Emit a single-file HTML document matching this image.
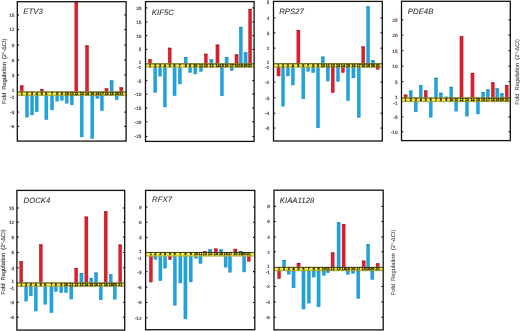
<!DOCTYPE html>
<html><head><meta charset="utf-8"><style>
html,body{margin:0;padding:0;background:#fff;}
body{width:520px;height:331px;overflow:hidden;}
svg{display:block;will-change:transform;font-family:"Liberation Sans",sans-serif;}
.tk{stroke:#111;stroke-width:1.1;}
.tl text{text-rendering:geometricPrecision;font-size:4.7px;fill:#4a4a4a;stroke:#4a4a4a;stroke-width:0.2;text-anchor:end;}
.bn text{font-size:3.7px;fill:#262000;stroke:#262000;stroke-width:0.25;text-anchor:middle;font-weight:bold;}
.ti{text-rendering:geometricPrecision;font-size:7.8px;font-style:italic;fill:#2e2e2e;stroke:#2e2e2e;stroke-width:0.06;}
.yl{text-rendering:geometricPrecision;font-size:5.8px;word-spacing:1.4px;fill:#3a3a3a;stroke:#3a3a3a;stroke-width:0.1;text-anchor:middle;}
.sup{font-size:4px;}
.yl.r{fill:#4a4a4a;stroke:#555;stroke-width:0.08;}
</style></head><body>
<svg width="520" height="331" viewBox="0 0 520 331">
<rect width="520" height="331" fill="#fff"/>
<rect x="20.1" y="85.6" width="3.2" height="5.9" fill="#dc1f2b" stroke="#b01c26" stroke-width="0.3"/>
<rect x="20.1" y="85.6" width="3.2" height="0.9" fill="#7a0c18" opacity="0.55"/>
<rect x="25.4" y="95.6" width="3.2" height="21.6" fill="#1ea3de" stroke="#1f8ac0" stroke-width="0.3"/>
<rect x="30.45" y="95.6" width="3.2" height="19.4" fill="#1ea3de" stroke="#1f8ac0" stroke-width="0.3"/>
<rect x="35.15" y="95.6" width="3.2" height="16.2" fill="#1ea3de" stroke="#1f8ac0" stroke-width="0.3"/>
<rect x="40.25" y="89.1" width="3.2" height="2.4" fill="#dc1f2b" stroke="#b01c26" stroke-width="0.3"/>
<rect x="40.25" y="89.1" width="3.2" height="0.9" fill="#7a0c18" opacity="0.55"/>
<rect x="44.75" y="95.6" width="3.2" height="24.1" fill="#1ea3de" stroke="#1f8ac0" stroke-width="0.3"/>
<rect x="50.45" y="95.6" width="3.2" height="14.4" fill="#1ea3de" stroke="#1f8ac0" stroke-width="0.3"/>
<rect x="55.6" y="95.6" width="3.2" height="5.6" fill="#1ea3de" stroke="#1f8ac0" stroke-width="0.3"/>
<rect x="60.3" y="95.6" width="3.2" height="4.9" fill="#1ea3de" stroke="#1f8ac0" stroke-width="0.3"/>
<rect x="65.1" y="95.6" width="3.2" height="7.8" fill="#1ea3de" stroke="#1f8ac0" stroke-width="0.3"/>
<rect x="70.2" y="95.6" width="3.2" height="9.3" fill="#1ea3de" stroke="#1f8ac0" stroke-width="0.3"/>
<rect x="74.7" y="2" width="3.2" height="89.5" fill="#dc1f2b" stroke="#b01c26" stroke-width="0.3"/>
<rect x="80.1" y="95.6" width="3.2" height="41.4" fill="#1ea3de" stroke="#1f8ac0" stroke-width="0.3"/>
<rect x="85.45" y="45.5" width="3.2" height="46" fill="#dc1f2b" stroke="#b01c26" stroke-width="0.3"/>
<rect x="85.45" y="45.5" width="3.2" height="0.9" fill="#7a0c18" opacity="0.55"/>
<rect x="90.7" y="95.6" width="3.2" height="43" fill="#1ea3de" stroke="#1f8ac0" stroke-width="0.3"/>
<rect x="95.8" y="95.6" width="3.2" height="3" fill="#1ea3de" stroke="#1f8ac0" stroke-width="0.3"/>
<rect x="100.3" y="95.6" width="3.2" height="15.1" fill="#1ea3de" stroke="#1f8ac0" stroke-width="0.3"/>
<rect x="104.9" y="88.5" width="3.2" height="3" fill="#dc1f2b" stroke="#b01c26" stroke-width="0.3"/>
<rect x="104.9" y="88.5" width="3.2" height="0.9" fill="#7a0c18" opacity="0.55"/>
<rect x="110" y="80.6" width="3.2" height="10.9" fill="#1ea3de" stroke="#1f8ac0" stroke-width="0.3"/>
<rect x="110" y="80.6" width="3.2" height="0.9" fill="#1a6a8a" opacity="0.55"/>
<rect x="115.1" y="95.6" width="3.2" height="4.2" fill="#1ea3de" stroke="#1f8ac0" stroke-width="0.3"/>
<rect x="119.7" y="87.5" width="3.2" height="4" fill="#dc1f2b" stroke="#b01c26" stroke-width="0.3"/>
<rect x="119.7" y="87.5" width="3.2" height="0.9" fill="#7a0c18" opacity="0.55"/>
<rect x="17.3" y="91.5" width="108.8" height="4.1" fill="#f1ec4a"/>
<line x1="17.3" y1="91.95" x2="126.1" y2="91.95" stroke="#3a3800" stroke-width="0.9"/>
<line x1="17.3" y1="95.35" x2="126.1" y2="95.35" stroke="#7a7a10" stroke-width="0.6"/>
<g class="bn"><text x="21.7" y="94.7">1</text><text x="27" y="94.7">2</text><text x="32.05" y="94.7">3</text><text x="36.75" y="94.7">4</text><text x="41.85" y="94.7">5</text><text x="46.35" y="94.7">6</text><text x="52.05" y="94.7">7</text><text x="57.2" y="94.7">8</text><text x="61.9" y="94.7">9</text><text x="66.7" y="94.7">10</text><text x="71.8" y="94.7">11</text><text x="76.3" y="94.7">12</text><text x="81.7" y="94.7">13</text><text x="87.05" y="94.7">14</text><text x="92.3" y="94.7">15</text><text x="97.4" y="94.7">16</text><text x="101.9" y="94.7">17</text><text x="106.5" y="94.7">18</text><text x="111.6" y="94.7">19</text><text x="116.7" y="94.7">20</text><text x="121.3" y="94.7">21</text></g>
<rect x="17.3" y="1.7" width="108.8" height="139.4" fill="none" stroke="#111" stroke-width="1.3"/>
<line x1="17.3" y1="14.9" x2="19.1" y2="14.9" class="tk"/>
<line x1="124.3" y1="14.9" x2="126.1" y2="14.9" class="tk"/>
<line x1="17.3" y1="29.5" x2="19.1" y2="29.5" class="tk"/>
<line x1="124.3" y1="29.5" x2="126.1" y2="29.5" class="tk"/>
<line x1="17.3" y1="45" x2="19.1" y2="45" class="tk"/>
<line x1="124.3" y1="45" x2="126.1" y2="45" class="tk"/>
<line x1="17.3" y1="59.9" x2="19.1" y2="59.9" class="tk"/>
<line x1="124.3" y1="59.9" x2="126.1" y2="59.9" class="tk"/>
<line x1="17.3" y1="75" x2="19.1" y2="75" class="tk"/>
<line x1="124.3" y1="75" x2="126.1" y2="75" class="tk"/>
<line x1="17.3" y1="112.1" x2="19.1" y2="112.1" class="tk"/>
<line x1="124.3" y1="112.1" x2="126.1" y2="112.1" class="tk"/>
<line x1="17.3" y1="126.4" x2="19.1" y2="126.4" class="tk"/>
<line x1="124.3" y1="126.4" x2="126.1" y2="126.4" class="tk"/>
<g class="tl"><text x="14.4" y="16.8">15</text><text x="14.4" y="31.4">12</text><text x="14.4" y="46.9">9</text><text x="14.4" y="61.8">6</text><text x="14.4" y="76.9">3</text><text x="14.4" y="114">-3</text><text x="14.4" y="128.3">-6</text><text x="14.4" y="91.8">1</text><text x="14.4" y="98.5">-1</text></g>
<text class="ti" x="23.3" y="14.4">ETV3</text>
<rect x="148.35" y="59.4" width="3.2" height="4" fill="#dc1f2b" stroke="#b01c26" stroke-width="0.3"/>
<rect x="148.35" y="59.4" width="3.2" height="0.9" fill="#7a0c18" opacity="0.55"/>
<rect x="153.6" y="67.4" width="3.2" height="25.1" fill="#1ea3de" stroke="#1f8ac0" stroke-width="0.3"/>
<rect x="158.45" y="67.4" width="3.2" height="8.9" fill="#1ea3de" stroke="#1f8ac0" stroke-width="0.3"/>
<rect x="163.3" y="67.4" width="3.2" height="39.6" fill="#1ea3de" stroke="#1f8ac0" stroke-width="0.3"/>
<rect x="168.1" y="47.9" width="3.2" height="15.5" fill="#dc1f2b" stroke="#b01c26" stroke-width="0.3"/>
<rect x="168.1" y="47.9" width="3.2" height="0.9" fill="#7a0c18" opacity="0.55"/>
<rect x="172.95" y="67.4" width="3.2" height="28.4" fill="#1ea3de" stroke="#1f8ac0" stroke-width="0.3"/>
<rect x="178.25" y="67.4" width="3.2" height="16.6" fill="#1ea3de" stroke="#1f8ac0" stroke-width="0.3"/>
<rect x="184.1" y="57.1" width="3.2" height="6.3" fill="#1ea3de" stroke="#1f8ac0" stroke-width="0.3"/>
<rect x="184.1" y="57.1" width="3.2" height="0.9" fill="#1a6a8a" opacity="0.55"/>
<rect x="188.5" y="67.4" width="3.2" height="5.2" fill="#1ea3de" stroke="#1f8ac0" stroke-width="0.3"/>
<rect x="193.75" y="67.4" width="3.2" height="6.6" fill="#1ea3de" stroke="#1f8ac0" stroke-width="0.3"/>
<rect x="199.4" y="67.4" width="3.2" height="4.2" fill="#1ea3de" stroke="#1f8ac0" stroke-width="0.3"/>
<rect x="204.25" y="53.9" width="3.2" height="9.5" fill="#dc1f2b" stroke="#b01c26" stroke-width="0.3"/>
<rect x="204.25" y="53.9" width="3.2" height="0.9" fill="#7a0c18" opacity="0.55"/>
<rect x="209.8" y="59.5" width="3.2" height="3.9" fill="#1ea3de" stroke="#1f8ac0" stroke-width="0.3"/>
<rect x="209.8" y="59.5" width="3.2" height="0.9" fill="#1a6a8a" opacity="0.55"/>
<rect x="215.9" y="44.8" width="3.2" height="18.6" fill="#dc1f2b" stroke="#b01c26" stroke-width="0.3"/>
<rect x="215.9" y="44.8" width="3.2" height="0.9" fill="#7a0c18" opacity="0.55"/>
<rect x="220.3" y="67.4" width="3.2" height="28.5" fill="#1ea3de" stroke="#1f8ac0" stroke-width="0.3"/>
<rect x="225" y="57.1" width="3.2" height="6.3" fill="#1ea3de" stroke="#1f8ac0" stroke-width="0.3"/>
<rect x="225" y="57.1" width="3.2" height="0.9" fill="#1a6a8a" opacity="0.55"/>
<rect x="230.2" y="67.4" width="3.2" height="3.3" fill="#1ea3de" stroke="#1f8ac0" stroke-width="0.3"/>
<rect x="234.95" y="54.5" width="3.2" height="8.9" fill="#dc1f2b" stroke="#b01c26" stroke-width="0.3"/>
<rect x="234.95" y="54.5" width="3.2" height="0.9" fill="#7a0c18" opacity="0.55"/>
<rect x="239.2" y="27" width="3.2" height="36.4" fill="#1ea3de" stroke="#1f8ac0" stroke-width="0.3"/>
<rect x="239.2" y="27" width="3.2" height="0.9" fill="#1a6a8a" opacity="0.55"/>
<rect x="243.95" y="52.5" width="3.2" height="10.9" fill="#1ea3de" stroke="#1f8ac0" stroke-width="0.3"/>
<rect x="243.95" y="52.5" width="3.2" height="0.9" fill="#1a6a8a" opacity="0.55"/>
<rect x="248.5" y="9.1" width="3.2" height="54.3" fill="#dc1f2b" stroke="#b01c26" stroke-width="0.3"/>
<rect x="248.5" y="9.1" width="3.2" height="0.9" fill="#7a0c18" opacity="0.55"/>
<rect x="145.5" y="63.4" width="108.6" height="4" fill="#f1ec4a"/>
<line x1="145.5" y1="63.85" x2="254.1" y2="63.85" stroke="#3a3800" stroke-width="0.9"/>
<line x1="145.5" y1="67.15" x2="254.1" y2="67.15" stroke="#7a7a10" stroke-width="0.6"/>
<g class="bn"><text x="149.95" y="66.5">1</text><text x="155.2" y="66.5">2</text><text x="160.05" y="66.5">3</text><text x="164.9" y="66.5">4</text><text x="169.7" y="66.5">5</text><text x="174.55" y="66.5">6</text><text x="179.85" y="66.5">7</text><text x="185.7" y="66.5">8</text><text x="190.1" y="66.5">9</text><text x="195.35" y="66.5">10</text><text x="201" y="66.5">11</text><text x="205.85" y="66.5">12</text><text x="211.4" y="66.5">13</text><text x="217.5" y="66.5">14</text><text x="221.9" y="66.5">15</text><text x="226.6" y="66.5">16</text><text x="231.8" y="66.5">17</text><text x="236.55" y="66.5">18</text><text x="240.8" y="66.5">19</text><text x="245.55" y="66.5">20</text><text x="250.1" y="66.5">21</text></g>
<rect x="145.5" y="1.6" width="108.6" height="139.8" fill="none" stroke="#111" stroke-width="1.3"/>
<line x1="145.5" y1="7.9" x2="147.3" y2="7.9" class="tk"/>
<line x1="252.3" y1="7.9" x2="254.1" y2="7.9" class="tk"/>
<line x1="145.5" y1="22" x2="147.3" y2="22" class="tk"/>
<line x1="252.3" y1="22" x2="254.1" y2="22" class="tk"/>
<line x1="145.5" y1="35.6" x2="147.3" y2="35.6" class="tk"/>
<line x1="252.3" y1="35.6" x2="254.1" y2="35.6" class="tk"/>
<line x1="145.5" y1="49.4" x2="147.3" y2="49.4" class="tk"/>
<line x1="252.3" y1="49.4" x2="254.1" y2="49.4" class="tk"/>
<line x1="145.5" y1="80.6" x2="147.3" y2="80.6" class="tk"/>
<line x1="252.3" y1="80.6" x2="254.1" y2="80.6" class="tk"/>
<line x1="145.5" y1="94.2" x2="147.3" y2="94.2" class="tk"/>
<line x1="252.3" y1="94.2" x2="254.1" y2="94.2" class="tk"/>
<line x1="145.5" y1="108.1" x2="147.3" y2="108.1" class="tk"/>
<line x1="252.3" y1="108.1" x2="254.1" y2="108.1" class="tk"/>
<line x1="145.5" y1="121.7" x2="147.3" y2="121.7" class="tk"/>
<line x1="252.3" y1="121.7" x2="254.1" y2="121.7" class="tk"/>
<line x1="145.5" y1="136.4" x2="147.3" y2="136.4" class="tk"/>
<line x1="252.3" y1="136.4" x2="254.1" y2="136.4" class="tk"/>
<g class="tl"><text x="141.4" y="9.8">20</text><text x="141.4" y="23.9">15</text><text x="141.4" y="37.5">10</text><text x="141.4" y="51.3">5</text><text x="141.4" y="82.5">-5</text><text x="141.4" y="96.1">-10</text><text x="141.4" y="110">-15</text><text x="141.4" y="123.6">-20</text><text x="141.4" y="138.3">-25</text><text x="141.4" y="63.9">1</text><text x="141.4" y="68.7">-1</text></g>
<text class="ti" x="151.8" y="14.9">KIF5C</text>
<rect x="276.95" y="67.4" width="3.2" height="8.6" fill="#dc1f2b" stroke="#b01c26" stroke-width="0.3"/>
<rect x="281.4" y="67.4" width="3.2" height="38.9" fill="#1ea3de" stroke="#1f8ac0" stroke-width="0.3"/>
<rect x="286.3" y="67.4" width="3.2" height="8.6" fill="#1ea3de" stroke="#1f8ac0" stroke-width="0.3"/>
<rect x="291.3" y="67.4" width="3.2" height="17.7" fill="#1ea3de" stroke="#1f8ac0" stroke-width="0.3"/>
<rect x="296.8" y="30.1" width="3.2" height="33.2" fill="#dc1f2b" stroke="#b01c26" stroke-width="0.3"/>
<rect x="296.8" y="30.1" width="3.2" height="0.9" fill="#7a0c18" opacity="0.55"/>
<rect x="301.7" y="67.4" width="3.2" height="31.5" fill="#1ea3de" stroke="#1f8ac0" stroke-width="0.3"/>
<rect x="306.5" y="67.4" width="3.2" height="4" fill="#1ea3de" stroke="#1f8ac0" stroke-width="0.3"/>
<rect x="311.6" y="67.4" width="3.2" height="5.4" fill="#1ea3de" stroke="#1f8ac0" stroke-width="0.3"/>
<rect x="316.4" y="67.4" width="3.2" height="60.5" fill="#1ea3de" stroke="#1f8ac0" stroke-width="0.3"/>
<rect x="321.2" y="56.8" width="3.2" height="6.5" fill="#1ea3de" stroke="#1f8ac0" stroke-width="0.3"/>
<rect x="321.2" y="56.8" width="3.2" height="0.9" fill="#1a6a8a" opacity="0.55"/>
<rect x="326.2" y="67.4" width="3.2" height="13.7" fill="#1ea3de" stroke="#1f8ac0" stroke-width="0.3"/>
<rect x="331.15" y="67.4" width="3.2" height="25.4" fill="#dc1f2b" stroke="#b01c26" stroke-width="0.3"/>
<rect x="336.4" y="67.4" width="3.2" height="14.2" fill="#1ea3de" stroke="#1f8ac0" stroke-width="0.3"/>
<rect x="341.3" y="67.4" width="3.2" height="5.3" fill="#dc1f2b" stroke="#b01c26" stroke-width="0.3"/>
<rect x="346.4" y="67.4" width="3.2" height="33.3" fill="#1ea3de" stroke="#1f8ac0" stroke-width="0.3"/>
<rect x="351.85" y="67.4" width="3.2" height="10.6" fill="#1ea3de" stroke="#1f8ac0" stroke-width="0.3"/>
<rect x="357.2" y="67.4" width="3.2" height="50.2" fill="#1ea3de" stroke="#1f8ac0" stroke-width="0.3"/>
<rect x="361.65" y="46.7" width="3.2" height="16.6" fill="#dc1f2b" stroke="#b01c26" stroke-width="0.3"/>
<rect x="361.65" y="46.7" width="3.2" height="0.9" fill="#7a0c18" opacity="0.55"/>
<rect x="366.5" y="6.5" width="3.2" height="56.8" fill="#1ea3de" stroke="#1f8ac0" stroke-width="0.3"/>
<rect x="366.5" y="6.5" width="3.2" height="0.9" fill="#1a6a8a" opacity="0.55"/>
<rect x="371.4" y="60.2" width="3.2" height="3.1" fill="#1ea3de" stroke="#1f8ac0" stroke-width="0.3"/>
<rect x="371.4" y="60.2" width="3.2" height="0.9" fill="#1a6a8a" opacity="0.55"/>
<rect x="376.15" y="67.4" width="3.2" height="2.1" fill="#dc1f2b" stroke="#b01c26" stroke-width="0.3"/>
<rect x="273.5" y="63.3" width="108.8" height="4.1" fill="#f1ec4a"/>
<line x1="273.5" y1="63.75" x2="382.3" y2="63.75" stroke="#3a3800" stroke-width="0.9"/>
<line x1="273.5" y1="67.15" x2="382.3" y2="67.15" stroke="#7a7a10" stroke-width="0.6"/>
<g class="bn"><text x="278.55" y="66.5">1</text><text x="283" y="66.5">2</text><text x="287.9" y="66.5">3</text><text x="292.9" y="66.5">4</text><text x="298.4" y="66.5">5</text><text x="303.3" y="66.5">6</text><text x="308.1" y="66.5">7</text><text x="313.2" y="66.5">8</text><text x="318" y="66.5">9</text><text x="322.8" y="66.5">10</text><text x="327.8" y="66.5">11</text><text x="332.75" y="66.5">12</text><text x="338" y="66.5">13</text><text x="342.9" y="66.5">14</text><text x="348" y="66.5">15</text><text x="353.45" y="66.5">16</text><text x="358.8" y="66.5">17</text><text x="363.25" y="66.5">18</text><text x="368.1" y="66.5">19</text><text x="373" y="66.5">20</text><text x="377.75" y="66.5">21</text></g>
<rect x="273.5" y="1.4" width="108.8" height="139.6" fill="none" stroke="#111" stroke-width="1.3"/>
<line x1="273.5" y1="17.8" x2="275.3" y2="17.8" class="tk"/>
<line x1="380.5" y1="17.8" x2="382.3" y2="17.8" class="tk"/>
<line x1="273.5" y1="32.8" x2="275.3" y2="32.8" class="tk"/>
<line x1="380.5" y1="32.8" x2="382.3" y2="32.8" class="tk"/>
<line x1="273.5" y1="48.2" x2="275.3" y2="48.2" class="tk"/>
<line x1="380.5" y1="48.2" x2="382.3" y2="48.2" class="tk"/>
<line x1="273.5" y1="82.2" x2="275.3" y2="82.2" class="tk"/>
<line x1="380.5" y1="82.2" x2="382.3" y2="82.2" class="tk"/>
<line x1="273.5" y1="97.7" x2="275.3" y2="97.7" class="tk"/>
<line x1="380.5" y1="97.7" x2="382.3" y2="97.7" class="tk"/>
<line x1="273.5" y1="113.2" x2="275.3" y2="113.2" class="tk"/>
<line x1="380.5" y1="113.2" x2="382.3" y2="113.2" class="tk"/>
<line x1="273.5" y1="128.1" x2="275.3" y2="128.1" class="tk"/>
<line x1="380.5" y1="128.1" x2="382.3" y2="128.1" class="tk"/>
<g class="tl"><text x="269.4" y="3.6">5</text><text x="269.4" y="19.7">4</text><text x="269.4" y="34.7">3</text><text x="269.4" y="50.1">2</text><text x="269.4" y="84.1">-2</text><text x="269.4" y="99.6">-3</text><text x="269.4" y="115.1">-4</text><text x="269.4" y="130">-5</text><text x="269.4" y="63.8">1</text><text x="269.4" y="69.3">-1</text></g>
<text class="ti" x="279.2" y="14.3">RPS27</text>
<rect x="404" y="94.8" width="3.2" height="2.7" fill="#dc1f2b" stroke="#b01c26" stroke-width="0.3"/>
<rect x="404" y="94.8" width="3.2" height="0.9" fill="#7a0c18" opacity="0.55"/>
<rect x="409.1" y="90.8" width="3.2" height="6.7" fill="#1ea3de" stroke="#1f8ac0" stroke-width="0.3"/>
<rect x="409.1" y="90.8" width="3.2" height="0.9" fill="#1a6a8a" opacity="0.55"/>
<rect x="414.15" y="101.9" width="3.2" height="10" fill="#1ea3de" stroke="#1f8ac0" stroke-width="0.3"/>
<rect x="419.15" y="85.3" width="3.2" height="12.2" fill="#1ea3de" stroke="#1f8ac0" stroke-width="0.3"/>
<rect x="419.15" y="85.3" width="3.2" height="0.9" fill="#1a6a8a" opacity="0.55"/>
<rect x="424.1" y="90.6" width="3.2" height="6.9" fill="#dc1f2b" stroke="#b01c26" stroke-width="0.3"/>
<rect x="424.1" y="90.6" width="3.2" height="0.9" fill="#7a0c18" opacity="0.55"/>
<rect x="429.1" y="101.9" width="3.2" height="15.3" fill="#1ea3de" stroke="#1f8ac0" stroke-width="0.3"/>
<rect x="434.4" y="77.9" width="3.2" height="19.6" fill="#1ea3de" stroke="#1f8ac0" stroke-width="0.3"/>
<rect x="434.4" y="77.9" width="3.2" height="0.9" fill="#1a6a8a" opacity="0.55"/>
<rect x="439.25" y="92.9" width="3.2" height="4.6" fill="#1ea3de" stroke="#1f8ac0" stroke-width="0.3"/>
<rect x="439.25" y="92.9" width="3.2" height="0.9" fill="#1a6a8a" opacity="0.55"/>
<rect x="444.8" y="96.9" width="3.2" height="0.6" fill="#1ea3de" stroke="#1f8ac0" stroke-width="0.3"/>
<rect x="444.8" y="96.9" width="3.2" height="0.9" fill="#1a6a8a" opacity="0.55"/>
<rect x="449.65" y="87" width="3.2" height="10.5" fill="#1ea3de" stroke="#1f8ac0" stroke-width="0.3"/>
<rect x="449.65" y="87" width="3.2" height="0.9" fill="#1a6a8a" opacity="0.55"/>
<rect x="454.55" y="101.9" width="3.2" height="9.3" fill="#1ea3de" stroke="#1f8ac0" stroke-width="0.3"/>
<rect x="459.9" y="36.3" width="3.2" height="61.2" fill="#dc1f2b" stroke="#b01c26" stroke-width="0.3"/>
<rect x="459.9" y="36.3" width="3.2" height="0.9" fill="#7a0c18" opacity="0.55"/>
<rect x="465.35" y="101.9" width="3.2" height="14.3" fill="#1ea3de" stroke="#1f8ac0" stroke-width="0.3"/>
<rect x="470.9" y="73" width="3.2" height="24.5" fill="#dc1f2b" stroke="#b01c26" stroke-width="0.3"/>
<rect x="470.9" y="73" width="3.2" height="0.9" fill="#7a0c18" opacity="0.55"/>
<rect x="476.35" y="101.9" width="3.2" height="12.1" fill="#1ea3de" stroke="#1f8ac0" stroke-width="0.3"/>
<rect x="481.55" y="92.1" width="3.2" height="5.4" fill="#1ea3de" stroke="#1f8ac0" stroke-width="0.3"/>
<rect x="481.55" y="92.1" width="3.2" height="0.9" fill="#1a6a8a" opacity="0.55"/>
<rect x="486.3" y="89.6" width="3.2" height="7.9" fill="#1ea3de" stroke="#1f8ac0" stroke-width="0.3"/>
<rect x="486.3" y="89.6" width="3.2" height="0.9" fill="#1a6a8a" opacity="0.55"/>
<rect x="491.25" y="82.5" width="3.2" height="15" fill="#dc1f2b" stroke="#b01c26" stroke-width="0.3"/>
<rect x="491.25" y="82.5" width="3.2" height="0.9" fill="#7a0c18" opacity="0.55"/>
<rect x="495.7" y="88.5" width="3.2" height="9" fill="#1ea3de" stroke="#1f8ac0" stroke-width="0.3"/>
<rect x="495.7" y="88.5" width="3.2" height="0.9" fill="#1a6a8a" opacity="0.55"/>
<rect x="500.25" y="93.4" width="3.2" height="4.1" fill="#1ea3de" stroke="#1f8ac0" stroke-width="0.3"/>
<rect x="500.25" y="93.4" width="3.2" height="0.9" fill="#1a6a8a" opacity="0.55"/>
<rect x="505.1" y="85.1" width="3.2" height="12.4" fill="#dc1f2b" stroke="#b01c26" stroke-width="0.3"/>
<rect x="505.1" y="85.1" width="3.2" height="0.9" fill="#7a0c18" opacity="0.55"/>
<rect x="401.5" y="97.5" width="108.8" height="4.4" fill="#f1ec4a"/>
<line x1="401.5" y1="97.95" x2="510.3" y2="97.95" stroke="#3a3800" stroke-width="0.9"/>
<line x1="401.5" y1="101.65" x2="510.3" y2="101.65" stroke="#7a7a10" stroke-width="0.6"/>
<g class="bn"><text x="405.6" y="101">1</text><text x="410.7" y="101">2</text><text x="415.75" y="101">3</text><text x="420.75" y="101">4</text><text x="425.7" y="101">5</text><text x="430.7" y="101">6</text><text x="436" y="101">7</text><text x="440.85" y="101">8</text><text x="446.4" y="101">9</text><text x="451.25" y="101">10</text><text x="456.15" y="101">11</text><text x="461.5" y="101">12</text><text x="466.95" y="101">13</text><text x="472.5" y="101">14</text><text x="477.95" y="101">15</text><text x="483.15" y="101">16</text><text x="487.9" y="101">17</text><text x="492.85" y="101">18</text><text x="497.3" y="101">19</text><text x="501.85" y="101">20</text><text x="506.7" y="101">21</text></g>
<rect x="401.5" y="1.3" width="108.8" height="139.3" fill="none" stroke="#111" stroke-width="1.3"/>
<line x1="401.5" y1="19.8" x2="403.3" y2="19.8" class="tk"/>
<line x1="508.5" y1="19.8" x2="510.3" y2="19.8" class="tk"/>
<line x1="401.5" y1="35.1" x2="403.3" y2="35.1" class="tk"/>
<line x1="508.5" y1="35.1" x2="510.3" y2="35.1" class="tk"/>
<line x1="401.5" y1="50.6" x2="403.3" y2="50.6" class="tk"/>
<line x1="508.5" y1="50.6" x2="510.3" y2="50.6" class="tk"/>
<line x1="401.5" y1="66.2" x2="403.3" y2="66.2" class="tk"/>
<line x1="508.5" y1="66.2" x2="510.3" y2="66.2" class="tk"/>
<line x1="401.5" y1="81.6" x2="403.3" y2="81.6" class="tk"/>
<line x1="508.5" y1="81.6" x2="510.3" y2="81.6" class="tk"/>
<line x1="401.5" y1="116.9" x2="403.3" y2="116.9" class="tk"/>
<line x1="508.5" y1="116.9" x2="510.3" y2="116.9" class="tk"/>
<line x1="401.5" y1="131.7" x2="403.3" y2="131.7" class="tk"/>
<line x1="508.5" y1="131.7" x2="510.3" y2="131.7" class="tk"/>
<g class="tl"><text x="397.5" y="21.7">25</text><text x="397.5" y="37">20</text><text x="397.5" y="52.5">15</text><text x="397.5" y="68.1">10</text><text x="397.5" y="83.5">5</text><text x="397.5" y="118.8">-5</text><text x="397.5" y="133.6">-10</text><text x="397.5" y="99">1</text><text x="397.5" y="104.7">-1</text></g>
<text class="ti" x="407.8" y="14">PDE4B</text>
<rect x="19.6" y="261.3" width="3.2" height="21.2" fill="#dc1f2b" stroke="#b01c26" stroke-width="0.3"/>
<rect x="19.6" y="261.3" width="3.2" height="0.9" fill="#7a0c18" opacity="0.55"/>
<rect x="24.5" y="286.5" width="3.2" height="14.6" fill="#1ea3de" stroke="#1f8ac0" stroke-width="0.3"/>
<rect x="29.2" y="286.5" width="3.2" height="9.4" fill="#1ea3de" stroke="#1f8ac0" stroke-width="0.3"/>
<rect x="34.2" y="286.5" width="3.2" height="24.6" fill="#1ea3de" stroke="#1f8ac0" stroke-width="0.3"/>
<rect x="39.2" y="244.5" width="3.2" height="38" fill="#dc1f2b" stroke="#b01c26" stroke-width="0.3"/>
<rect x="39.2" y="244.5" width="3.2" height="0.9" fill="#7a0c18" opacity="0.55"/>
<rect x="43.7" y="286.5" width="3.2" height="17.8" fill="#1ea3de" stroke="#1f8ac0" stroke-width="0.3"/>
<rect x="49.85" y="286.5" width="3.2" height="26.3" fill="#1ea3de" stroke="#1f8ac0" stroke-width="0.3"/>
<rect x="54.25" y="286.5" width="3.2" height="5.1" fill="#1ea3de" stroke="#1f8ac0" stroke-width="0.3"/>
<rect x="59.65" y="286.5" width="3.2" height="6.3" fill="#1ea3de" stroke="#1f8ac0" stroke-width="0.3"/>
<rect x="64.4" y="286.5" width="3.2" height="6.2" fill="#1ea3de" stroke="#1f8ac0" stroke-width="0.3"/>
<rect x="69.7" y="286.5" width="3.2" height="12.6" fill="#1ea3de" stroke="#1f8ac0" stroke-width="0.3"/>
<rect x="74.6" y="268.2" width="3.2" height="14.3" fill="#dc1f2b" stroke="#b01c26" stroke-width="0.3"/>
<rect x="74.6" y="268.2" width="3.2" height="0.9" fill="#7a0c18" opacity="0.55"/>
<rect x="79.85" y="273.2" width="3.2" height="9.3" fill="#1ea3de" stroke="#1f8ac0" stroke-width="0.3"/>
<rect x="79.85" y="273.2" width="3.2" height="0.9" fill="#1a6a8a" opacity="0.55"/>
<rect x="84.75" y="216.8" width="3.2" height="65.7" fill="#dc1f2b" stroke="#b01c26" stroke-width="0.3"/>
<rect x="84.75" y="216.8" width="3.2" height="0.9" fill="#7a0c18" opacity="0.55"/>
<rect x="89.6" y="278.1" width="3.2" height="4.4" fill="#1ea3de" stroke="#1f8ac0" stroke-width="0.3"/>
<rect x="89.6" y="278.1" width="3.2" height="0.9" fill="#1a6a8a" opacity="0.55"/>
<rect x="94.5" y="272.7" width="3.2" height="9.8" fill="#1ea3de" stroke="#1f8ac0" stroke-width="0.3"/>
<rect x="94.5" y="272.7" width="3.2" height="0.9" fill="#1a6a8a" opacity="0.55"/>
<rect x="99.2" y="286.5" width="3.2" height="13.4" fill="#1ea3de" stroke="#1f8ac0" stroke-width="0.3"/>
<rect x="104.1" y="211.4" width="3.2" height="71.1" fill="#dc1f2b" stroke="#b01c26" stroke-width="0.3"/>
<rect x="104.1" y="211.4" width="3.2" height="0.9" fill="#7a0c18" opacity="0.55"/>
<rect x="109.1" y="274.5" width="3.2" height="8" fill="#1ea3de" stroke="#1f8ac0" stroke-width="0.3"/>
<rect x="109.1" y="274.5" width="3.2" height="0.9" fill="#1a6a8a" opacity="0.55"/>
<rect x="113.2" y="286.5" width="3.2" height="12.8" fill="#1ea3de" stroke="#1f8ac0" stroke-width="0.3"/>
<rect x="118.6" y="244.8" width="3.2" height="37.7" fill="#dc1f2b" stroke="#b01c26" stroke-width="0.3"/>
<rect x="118.6" y="244.8" width="3.2" height="0.9" fill="#7a0c18" opacity="0.55"/>
<rect x="16.9" y="282.5" width="107.8" height="4" fill="#f1ec4a"/>
<line x1="16.9" y1="282.95" x2="124.7" y2="282.95" stroke="#3a3800" stroke-width="0.9"/>
<line x1="16.9" y1="286.25" x2="124.7" y2="286.25" stroke="#7a7a10" stroke-width="0.6"/>
<g class="bn"><text x="21.2" y="285.6">1</text><text x="26.1" y="285.6">2</text><text x="30.8" y="285.6">3</text><text x="35.8" y="285.6">4</text><text x="40.8" y="285.6">5</text><text x="45.3" y="285.6">6</text><text x="51.45" y="285.6">7</text><text x="55.85" y="285.6">8</text><text x="61.25" y="285.6">9</text><text x="66" y="285.6">10</text><text x="71.3" y="285.6">11</text><text x="76.2" y="285.6">12</text><text x="81.45" y="285.6">13</text><text x="86.35" y="285.6">14</text><text x="91.2" y="285.6">15</text><text x="96.1" y="285.6">16</text><text x="100.8" y="285.6">17</text><text x="105.7" y="285.6">18</text><text x="110.7" y="285.6">19</text><text x="114.8" y="285.6">20</text><text x="120.2" y="285.6">21</text></g>
<rect x="16.9" y="190.4" width="107.8" height="139.7" fill="none" stroke="#111" stroke-width="1.3"/>
<line x1="16.9" y1="208" x2="18.7" y2="208" class="tk"/>
<line x1="122.9" y1="208" x2="124.7" y2="208" class="tk"/>
<line x1="16.9" y1="222.2" x2="18.7" y2="222.2" class="tk"/>
<line x1="122.9" y1="222.2" x2="124.7" y2="222.2" class="tk"/>
<line x1="16.9" y1="237" x2="18.7" y2="237" class="tk"/>
<line x1="122.9" y1="237" x2="124.7" y2="237" class="tk"/>
<line x1="16.9" y1="252.5" x2="18.7" y2="252.5" class="tk"/>
<line x1="122.9" y1="252.5" x2="124.7" y2="252.5" class="tk"/>
<line x1="16.9" y1="267.8" x2="18.7" y2="267.8" class="tk"/>
<line x1="122.9" y1="267.8" x2="124.7" y2="267.8" class="tk"/>
<line x1="16.9" y1="302.3" x2="18.7" y2="302.3" class="tk"/>
<line x1="122.9" y1="302.3" x2="124.7" y2="302.3" class="tk"/>
<line x1="16.9" y1="317.2" x2="18.7" y2="317.2" class="tk"/>
<line x1="122.9" y1="317.2" x2="124.7" y2="317.2" class="tk"/>
<g class="tl"><text x="14.1" y="209.9">15</text><text x="14.1" y="224.1">12</text><text x="14.1" y="238.9">9</text><text x="14.1" y="254.4">6</text><text x="14.1" y="269.7">3</text><text x="14.1" y="304.2">-3</text><text x="14.1" y="319.1">-6</text><text x="14.1" y="282.9">1</text><text x="14.1" y="289.8">-1</text></g>
<text class="ti" x="23.5" y="202.8">DOCK4</text>
<rect x="149.3" y="256.3" width="3.2" height="25.8" fill="#dc1f2b" stroke="#b01c26" stroke-width="0.3"/>
<rect x="153.8" y="256.3" width="3.2" height="3.2" fill="#1ea3de" stroke="#1f8ac0" stroke-width="0.3"/>
<rect x="158.8" y="256.3" width="3.2" height="24.4" fill="#1ea3de" stroke="#1f8ac0" stroke-width="0.3"/>
<rect x="163.5" y="256.3" width="3.2" height="11.9" fill="#1ea3de" stroke="#1f8ac0" stroke-width="0.3"/>
<rect x="168.4" y="256.3" width="3.2" height="3.5" fill="#dc1f2b" stroke="#b01c26" stroke-width="0.3"/>
<rect x="173.25" y="256.3" width="3.2" height="49.1" fill="#1ea3de" stroke="#1f8ac0" stroke-width="0.3"/>
<rect x="178.8" y="256.3" width="3.2" height="26.7" fill="#1ea3de" stroke="#1f8ac0" stroke-width="0.3"/>
<rect x="183.85" y="256.3" width="3.2" height="62.7" fill="#1ea3de" stroke="#1f8ac0" stroke-width="0.3"/>
<rect x="189.15" y="256.3" width="3.2" height="25.7" fill="#1ea3de" stroke="#1f8ac0" stroke-width="0.3"/>
<rect x="194.4" y="256.3" width="3.2" height="2.1" fill="#1ea3de" stroke="#1f8ac0" stroke-width="0.3"/>
<rect x="198.9" y="256.3" width="3.2" height="7.3" fill="#1ea3de" stroke="#1f8ac0" stroke-width="0.3"/>
<rect x="203.3" y="251.4" width="3.2" height="0.6" fill="#dc1f2b" stroke="#b01c26" stroke-width="0.3"/>
<rect x="203.3" y="251.4" width="3.2" height="0.9" fill="#7a0c18" opacity="0.55"/>
<rect x="208.55" y="249.5" width="3.2" height="2.5" fill="#1ea3de" stroke="#1f8ac0" stroke-width="0.3"/>
<rect x="208.55" y="249.5" width="3.2" height="0.9" fill="#1a6a8a" opacity="0.55"/>
<rect x="214.3" y="248.7" width="3.2" height="3.3" fill="#dc1f2b" stroke="#b01c26" stroke-width="0.3"/>
<rect x="214.3" y="248.7" width="3.2" height="0.9" fill="#7a0c18" opacity="0.55"/>
<rect x="219.45" y="249.5" width="3.2" height="2.5" fill="#1ea3de" stroke="#1f8ac0" stroke-width="0.3"/>
<rect x="219.45" y="249.5" width="3.2" height="0.9" fill="#1a6a8a" opacity="0.55"/>
<rect x="224.05" y="256.3" width="3.2" height="10.9" fill="#1ea3de" stroke="#1f8ac0" stroke-width="0.3"/>
<rect x="228.4" y="256.3" width="3.2" height="16.1" fill="#1ea3de" stroke="#1f8ac0" stroke-width="0.3"/>
<rect x="233.8" y="249" width="3.2" height="3" fill="#dc1f2b" stroke="#b01c26" stroke-width="0.3"/>
<rect x="233.8" y="249" width="3.2" height="0.9" fill="#7a0c18" opacity="0.55"/>
<rect x="238.9" y="251.1" width="3.2" height="0.9" fill="#1ea3de" stroke="#1f8ac0" stroke-width="0.3"/>
<rect x="238.9" y="251.1" width="3.2" height="0.9" fill="#1a6a8a" opacity="0.55"/>
<rect x="242.55" y="256.3" width="3.2" height="15.7" fill="#1ea3de" stroke="#1f8ac0" stroke-width="0.3"/>
<rect x="247.2" y="256.3" width="3.2" height="5.2" fill="#dc1f2b" stroke="#b01c26" stroke-width="0.3"/>
<rect x="145.6" y="252" width="109.2" height="4.3" fill="#f1ec4a"/>
<line x1="145.6" y1="252.45" x2="254.8" y2="252.45" stroke="#3a3800" stroke-width="0.9"/>
<line x1="145.6" y1="256.05" x2="254.8" y2="256.05" stroke="#7a7a10" stroke-width="0.6"/>
<g class="bn"><text x="150.9" y="255.4">1</text><text x="155.4" y="255.4">2</text><text x="160.4" y="255.4">3</text><text x="165.1" y="255.4">4</text><text x="170" y="255.4">5</text><text x="174.85" y="255.4">6</text><text x="180.4" y="255.4">7</text><text x="185.45" y="255.4">8</text><text x="190.75" y="255.4">9</text><text x="196" y="255.4">10</text><text x="200.5" y="255.4">11</text><text x="204.9" y="255.4">12</text><text x="210.15" y="255.4">13</text><text x="215.9" y="255.4">14</text><text x="221.05" y="255.4">15</text><text x="225.65" y="255.4">16</text><text x="230" y="255.4">17</text><text x="235.4" y="255.4">18</text><text x="240.5" y="255.4">19</text><text x="244.15" y="255.4">20</text><text x="248.8" y="255.4">21</text></g>
<rect x="145.6" y="190.4" width="109.2" height="139.3" fill="none" stroke="#111" stroke-width="1.3"/>
<line x1="145.6" y1="207" x2="147.4" y2="207" class="tk"/>
<line x1="253" y1="207" x2="254.8" y2="207" class="tk"/>
<line x1="145.6" y1="222.3" x2="147.4" y2="222.3" class="tk"/>
<line x1="253" y1="222.3" x2="254.8" y2="222.3" class="tk"/>
<line x1="145.6" y1="237.4" x2="147.4" y2="237.4" class="tk"/>
<line x1="253" y1="237.4" x2="254.8" y2="237.4" class="tk"/>
<line x1="145.6" y1="271.6" x2="147.4" y2="271.6" class="tk"/>
<line x1="253" y1="271.6" x2="254.8" y2="271.6" class="tk"/>
<line x1="145.6" y1="287.1" x2="147.4" y2="287.1" class="tk"/>
<line x1="253" y1="287.1" x2="254.8" y2="287.1" class="tk"/>
<line x1="145.6" y1="302.5" x2="147.4" y2="302.5" class="tk"/>
<line x1="253" y1="302.5" x2="254.8" y2="302.5" class="tk"/>
<line x1="145.6" y1="317.7" x2="147.4" y2="317.7" class="tk"/>
<line x1="253" y1="317.7" x2="254.8" y2="317.7" class="tk"/>
<g class="tl"><text x="141.6" y="208.9">9</text><text x="141.6" y="224.2">6</text><text x="141.6" y="239.3">3</text><text x="141.6" y="273.5">-3</text><text x="141.6" y="289">-6</text><text x="141.6" y="304.4">-9</text><text x="141.6" y="319.6">-12</text><text x="141.6" y="252.7">1</text><text x="141.6" y="259.7">-1</text></g>
<text class="ti" x="152.1" y="202.4">RFX7</text>
<rect x="277.45" y="271" width="3.2" height="7.8" fill="#dc1f2b" stroke="#b01c26" stroke-width="0.3"/>
<rect x="282.5" y="260" width="3.2" height="6.9" fill="#1ea3de" stroke="#1f8ac0" stroke-width="0.3"/>
<rect x="282.5" y="260" width="3.2" height="0.9" fill="#1a6a8a" opacity="0.55"/>
<rect x="287.1" y="271" width="3.2" height="3.3" fill="#1ea3de" stroke="#1f8ac0" stroke-width="0.3"/>
<rect x="291.95" y="271" width="3.2" height="16.9" fill="#1ea3de" stroke="#1f8ac0" stroke-width="0.3"/>
<rect x="296.95" y="263" width="3.2" height="3.9" fill="#dc1f2b" stroke="#b01c26" stroke-width="0.3"/>
<rect x="296.95" y="263" width="3.2" height="0.9" fill="#7a0c18" opacity="0.55"/>
<rect x="301.9" y="271" width="3.2" height="38.1" fill="#1ea3de" stroke="#1f8ac0" stroke-width="0.3"/>
<rect x="307.3" y="271" width="3.2" height="32.2" fill="#1ea3de" stroke="#1f8ac0" stroke-width="0.3"/>
<rect x="312.1" y="271" width="3.2" height="6.2" fill="#1ea3de" stroke="#1f8ac0" stroke-width="0.3"/>
<rect x="316.95" y="271" width="3.2" height="35.9" fill="#1ea3de" stroke="#1f8ac0" stroke-width="0.3"/>
<rect x="322.25" y="271" width="3.2" height="4.5" fill="#1ea3de" stroke="#1f8ac0" stroke-width="0.3"/>
<rect x="326.35" y="271" width="3.2" height="1.8" fill="#1ea3de" stroke="#1f8ac0" stroke-width="0.3"/>
<rect x="331" y="252.5" width="3.2" height="14.4" fill="#dc1f2b" stroke="#b01c26" stroke-width="0.3"/>
<rect x="331" y="252.5" width="3.2" height="0.9" fill="#7a0c18" opacity="0.55"/>
<rect x="337" y="222.3" width="3.2" height="44.6" fill="#1ea3de" stroke="#1f8ac0" stroke-width="0.3"/>
<rect x="337" y="222.3" width="3.2" height="0.9" fill="#1a6a8a" opacity="0.55"/>
<rect x="342.05" y="224.1" width="3.2" height="42.8" fill="#dc1f2b" stroke="#b01c26" stroke-width="0.3"/>
<rect x="342.05" y="224.1" width="3.2" height="0.9" fill="#7a0c18" opacity="0.55"/>
<rect x="346.3" y="271" width="3.2" height="3.5" fill="#1ea3de" stroke="#1f8ac0" stroke-width="0.3"/>
<rect x="351.55" y="271" width="3.2" height="2.6" fill="#1ea3de" stroke="#1f8ac0" stroke-width="0.3"/>
<rect x="356.65" y="271" width="3.2" height="27.6" fill="#1ea3de" stroke="#1f8ac0" stroke-width="0.3"/>
<rect x="362.05" y="260.8" width="3.2" height="6.1" fill="#dc1f2b" stroke="#b01c26" stroke-width="0.3"/>
<rect x="362.05" y="260.8" width="3.2" height="0.9" fill="#7a0c18" opacity="0.55"/>
<rect x="366.5" y="244.3" width="3.2" height="22.6" fill="#1ea3de" stroke="#1f8ac0" stroke-width="0.3"/>
<rect x="366.5" y="244.3" width="3.2" height="0.9" fill="#1a6a8a" opacity="0.55"/>
<rect x="370.75" y="271" width="3.2" height="8.5" fill="#1ea3de" stroke="#1f8ac0" stroke-width="0.3"/>
<rect x="376.05" y="263.4" width="3.2" height="3.5" fill="#dc1f2b" stroke="#b01c26" stroke-width="0.3"/>
<rect x="376.05" y="263.4" width="3.2" height="0.9" fill="#7a0c18" opacity="0.55"/>
<rect x="274" y="266.9" width="109.2" height="4.1" fill="#f1ec4a"/>
<line x1="274" y1="267.35" x2="383.2" y2="267.35" stroke="#3a3800" stroke-width="0.9"/>
<line x1="274" y1="270.75" x2="383.2" y2="270.75" stroke="#7a7a10" stroke-width="0.6"/>
<g class="bn"><text x="279.05" y="270.1">1</text><text x="284.1" y="270.1">2</text><text x="288.7" y="270.1">3</text><text x="293.55" y="270.1">4</text><text x="298.55" y="270.1">5</text><text x="303.5" y="270.1">6</text><text x="308.9" y="270.1">7</text><text x="313.7" y="270.1">8</text><text x="318.55" y="270.1">9</text><text x="323.85" y="270.1">10</text><text x="327.95" y="270.1">11</text><text x="332.6" y="270.1">12</text><text x="338.6" y="270.1">13</text><text x="343.65" y="270.1">14</text><text x="347.9" y="270.1">15</text><text x="353.15" y="270.1">16</text><text x="358.25" y="270.1">17</text><text x="363.65" y="270.1">18</text><text x="368.1" y="270.1">19</text><text x="372.35" y="270.1">20</text><text x="377.65" y="270.1">21</text></g>
<rect x="274" y="190.2" width="109.2" height="139.7" fill="none" stroke="#111" stroke-width="1.3"/>
<line x1="274" y1="206.4" x2="275.8" y2="206.4" class="tk"/>
<line x1="381.4" y1="206.4" x2="383.2" y2="206.4" class="tk"/>
<line x1="274" y1="221.5" x2="275.8" y2="221.5" class="tk"/>
<line x1="381.4" y1="221.5" x2="383.2" y2="221.5" class="tk"/>
<line x1="274" y1="237" x2="275.8" y2="237" class="tk"/>
<line x1="381.4" y1="237" x2="383.2" y2="237" class="tk"/>
<line x1="274" y1="251.8" x2="275.8" y2="251.8" class="tk"/>
<line x1="381.4" y1="251.8" x2="383.2" y2="251.8" class="tk"/>
<line x1="274" y1="286.5" x2="275.8" y2="286.5" class="tk"/>
<line x1="381.4" y1="286.5" x2="383.2" y2="286.5" class="tk"/>
<line x1="274" y1="302" x2="275.8" y2="302" class="tk"/>
<line x1="381.4" y1="302" x2="383.2" y2="302" class="tk"/>
<line x1="274" y1="317.2" x2="275.8" y2="317.2" class="tk"/>
<line x1="381.4" y1="317.2" x2="383.2" y2="317.2" class="tk"/>
<g class="tl"><text x="269.8" y="208.3">8</text><text x="269.8" y="223.4">6</text><text x="269.8" y="238.9">4</text><text x="269.8" y="253.7">2</text><text x="269.8" y="288.4">-2</text><text x="269.8" y="303.9">-4</text><text x="269.8" y="319.1">-6</text><text x="269.8" y="267.6">1</text><text x="269.8" y="274.1">-1</text></g>
<text class="ti" x="279.8" y="203.4">KIAA1128</text>
<text class="yl" transform="translate(5.5 71.3) rotate(-90)" x="0" y="0">Fold Regulation (2<tspan class="sup" dy="-1">^</tspan><tspan dy="1">-&#916;Ct)</tspan></text>
<text class="yl r" transform="translate(518.9 71.9) rotate(-90)" x="0" y="0">Fold Regulation (2<tspan class="sup" dy="-1">^</tspan><tspan dy="1">-&#916;Ct)</tspan></text>
<text class="yl" transform="translate(4.9 262) rotate(-90)" x="0" y="0">Fold Regulation (2<tspan class="sup" dy="-1">^</tspan><tspan dy="1">-&#916;Ct)</tspan></text>
<text class="yl r" transform="translate(395.1 262.4) rotate(-90)" x="0" y="0">Fold Regulation (2<tspan class="sup" dy="-1">^</tspan><tspan dy="1">-&#916;Ct)</tspan></text>
</svg>
</body></html>
